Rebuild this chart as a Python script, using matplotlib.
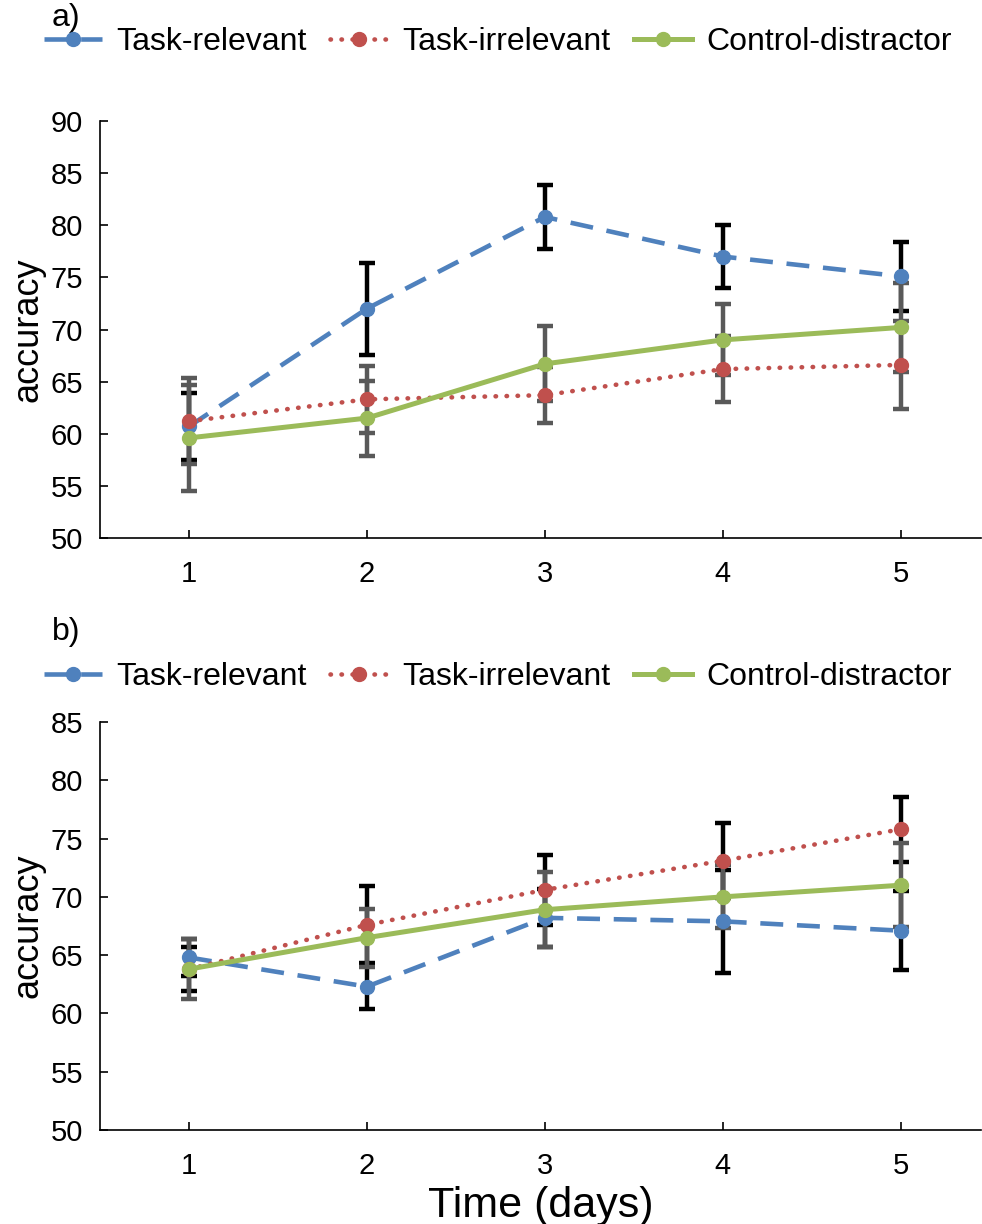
import matplotlib
matplotlib.use('Agg')
import matplotlib.pyplot as plt

plt.rcParams['font.family'] = ['Liberation Sans', 'DejaVu Sans']

days = [1, 2, 3, 4, 5]
labels = ['Task-relevant', 'Task-irrelevant', 'Control-distractor']

# panel a
a_rel = [60.7, 72.0, 80.8, 77.0, 75.1]
a_rel_err = [3.2, 4.4, 3.1, 3.0, 3.3]
a_irr = [61.2, 63.3, 63.7, 66.2, 66.6]
a_irr_err = [4.1, 3.2, 2.7, 3.2, 4.2]
a_ctl = [59.6, 61.5, 66.7, 69.0, 70.2]
a_ctl_err = [5.1, 3.6, 3.6, 3.4, 4.3]

# panel b
b_rel = [64.8, 62.3, 68.2, 67.9, 67.1]
b_rel_err = [1.6, 1.9, 2.5, 4.4, 3.4]
b_irr = [63.8, 67.6, 70.6, 73.1, 75.8]
b_irr_err = [1.9, 3.3, 3.0, 3.2, 2.8]
b_ctl = [63.8, 66.5, 68.9, 70.0, 71.0]
b_ctl_err = [2.6, 2.5, 3.2, 2.7, 3.6]

blue = '#4F81BD'
red = '#C0504D'
green = '#9BBB59'
gray = '#595959'

fig = plt.figure(figsize=(9.82, 12.24), dpi=100)
ax1 = fig.add_axes([0.1018, 0.5605, 0.897, 0.3406])
ax2 = fig.add_axes([0.1018, 0.0768, 0.897, 0.3333])


def draw(ax, rel, rel_e, irr, irr_e, ctl, ctl_e, errcols, ylim, leg_y, letter, letter_y):
    series = [(rel, rel_e, errcols[0]), (irr, irr_e, errcols[1]), (ctl, ctl_e, errcols[2])]
    for vals, errs, ec in series:
        ax.errorbar(days, vals, yerr=errs, fmt='none', ecolor=ec, elinewidth=3.2,
                    capsize=5.5, capthick=3.2, zorder=2)
    l1, = ax.plot(days, rel, color=blue, lw=3.3, linestyle=(0, (5, 3)),
                  marker='o', markersize=10, zorder=3)
    l2, = ax.plot(days, irr, color=red, lw=3.3, linestyle=(0, (0.1, 2.3)),
                  dash_capstyle='round', marker='o', markersize=10, zorder=3)
    l3, = ax.plot(days, ctl, color=green, lw=3.6, marker='o', markersize=10, zorder=3)

    ax.set_xlim(0.5, 5.45)
    ax.set_ylim(*ylim)
    ax.set_yticks(range(ylim[0], ylim[1] + 1, 5))
    ax.set_xticks(days)
    for s in ['top', 'right']:
        ax.spines[s].set_visible(False)
    for s in ['left', 'bottom']:
        ax.spines[s].set_linewidth(1.2)
    ax.tick_params(direction='in', length=6, width=1.2, labelsize=21)
    ax.tick_params(axis='x', pad=16)
    ax.tick_params(axis='y', pad=12)
    ax.set_ylabel('accuracy', fontsize=26, labelpad=4)

    fig.legend([l1, l2, l3], labels, loc='center left',
               bbox_to_anchor=(0.045, leg_y), ncol=3, frameon=False, fontsize=23,
               handlelength=1.8, handletextpad=0.45, columnspacing=0.75,
               borderpad=0, borderaxespad=0)
    fig.text(0.053, letter_y, letter, fontsize=23, va='center', ha='left')


draw(ax1, a_rel, a_rel_err, a_irr, a_irr_err, a_ctl, a_ctl_err,
     ['black', gray, gray], (50, 90), 1 - 42 / 1224, 'a)', 1 - 18 / 1224)
draw(ax2, b_rel, b_rel_err, b_irr, b_irr_err, b_ctl, b_ctl_err,
     ['black', 'black', gray], (50, 85), 1 - 677 / 1224, 'b)', 1 - 632 / 1224)

ax2.set_xlabel('Time (days)', fontsize=31, labelpad=4)

fig.savefig('out.png', dpi=100)
